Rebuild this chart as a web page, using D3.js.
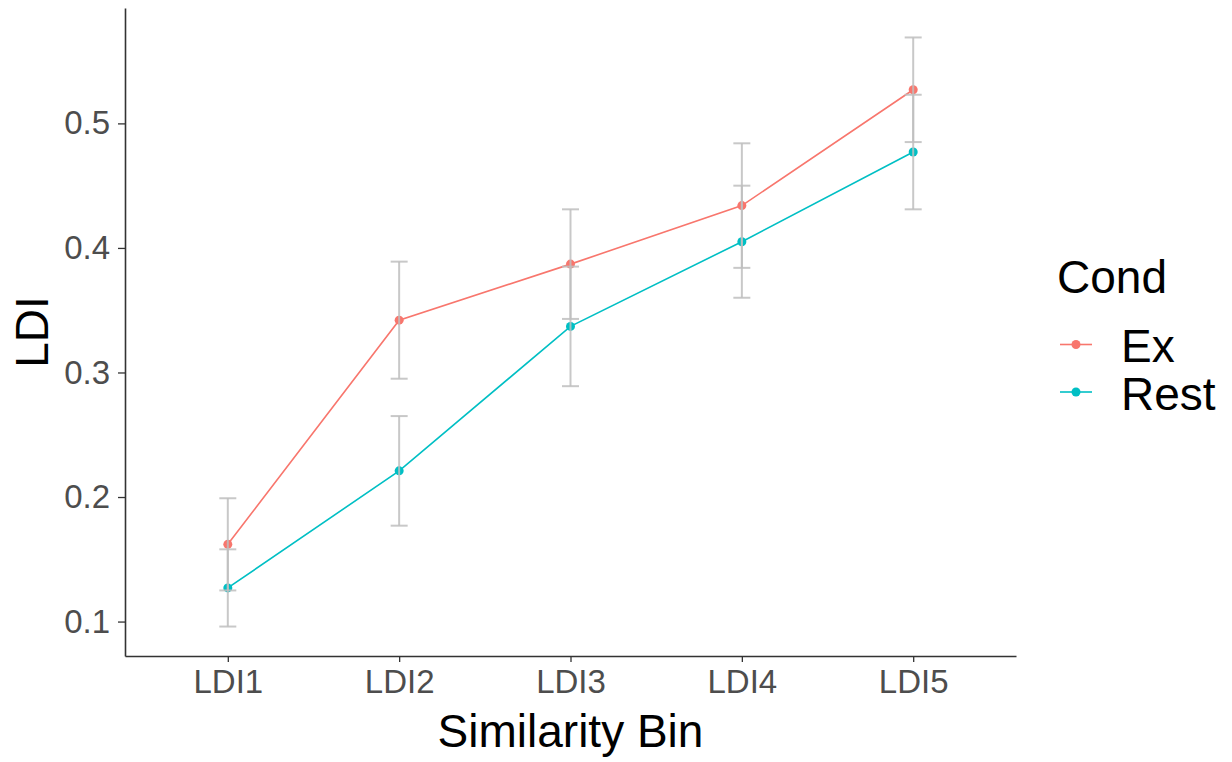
<!DOCTYPE html>
<html>
<head>
<meta charset="utf-8">
<script src="https://cdn.jsdelivr.net/npm/d3@7"></script>
<style>
  body { margin: 0; background: #fff; }
  text { font-family: "Liberation Sans", Arial, sans-serif; }
</style>
</head>
<body>
<div id="chart"></div>
<script>
// data
const bins = ["LDI1", "LDI2", "LDI3", "LDI4", "LDI5"];
const conds = ["Ex", "Rest"];
const exMean = [0.162, 0.342, 0.387, 0.434, 0.527];
const exErr = [0.037, 0.047, 0.044, 0.050, 0.042];
const restMean = [0.127, 0.221, 0.337, 0.405, 0.477];
const restErr = [0.031, 0.044, 0.048, 0.045, 0.046];
const yTicks = [0.1, 0.2, 0.3, 0.4, 0.5];

const width = 1232;
const height = 762;
const panel = {left: 125, right: 1016, top: 8, bottom: 656};
const colors = {Ex: "#F8766D", Rest: "#00BFC4"};
const r = 4.5;

const series = [
    {cond: "Ex", mean: exMean, err: exErr},
    {cond: "Rest", mean: restMean, err: restErr}
];

const svg = d3.select("#chart")
    .append("svg")
    .attr("width", width)
    .attr("height", height);

/*
SCALES
*/
const xScale = d3.scalePoint()
    .domain(bins)
    .range([panel.left, panel.right])
    .padding(0.6);

let lo = d3.min(series, s => d3.min(s.mean, (m, i) => m - s.err[i]));
let hi = d3.max(series, s => d3.max(s.mean, (m, i) => m + s.err[i]));
let pad = (hi - lo) * 0.05;

const yScale = d3.scaleLinear()
    .domain([lo - pad, hi + pad])
    .range([panel.bottom, panel.top]);

/*
LINES + POINTS + ERROR BARS
*/
const line = d3.line()
    .x((d, i) => xScale(bins[i]))
    .y(d => yScale(d));

series.forEach(function(s){
    svg.append("path")
        .datum(s.mean)
        .attr("d", line)
        .attr("fill", "none")
        .attr("stroke", colors[s.cond])
        .attr("stroke-width", 1.6);

    svg.selectAll(".pt-" + s.cond)
        .data(s.mean)
        .enter()
        .append("circle")
        .attr("class", "pt-" + s.cond)
        .attr("cx", (d, i) => xScale(bins[i]))
        .attr("cy", d => yScale(d))
        .attr("r", r)
        .attr("fill", colors[s.cond]);
});

const capW = 8.5;
series.forEach(function(s){
    const g = svg.append("g")
        .attr("stroke", "#BEBEBE")
        .attr("stroke-width", 2)
        .attr("stroke-opacity", 0.85);
    s.mean.forEach(function(m, i){
        const x = xScale(bins[i]);
        const yTop = yScale(m + s.err[i]);
        const yBot = yScale(m - s.err[i]);
        g.append("line").attr("x1", x).attr("x2", x).attr("y1", yTop).attr("y2", yBot);
        g.append("line").attr("x1", x - capW).attr("x2", x + capW).attr("y1", yTop).attr("y2", yTop);
        g.append("line").attr("x1", x - capW).attr("x2", x + capW).attr("y1", yBot).attr("y2", yBot);
    });
});

/*
AXES
*/
const xAxis = svg.append("g")
    .attr("transform", `translate(0, ${panel.bottom})`)
    .call(d3.axisBottom(xScale).tickSize(6).tickPadding(8).tickSizeOuter(0));

const yAxis = svg.append("g")
    .attr("transform", `translate(${panel.left}, 0)`)
    .call(d3.axisLeft(yScale).tickValues(yTicks).tickFormat(d3.format(".1f"))
        .tickSize(7).tickPadding(8).tickSizeOuter(0));

[xAxis, yAxis].forEach(function(a){
    a.select(".domain").attr("stroke", "#333").attr("stroke-width", 1.6);
    a.selectAll(".tick line").attr("stroke", "#333").attr("stroke-width", 1.3);
    a.selectAll(".tick text")
        .attr("fill", "#4D4D4D")
        .style("font-size", "33px")
        .style("font-family", "'Liberation Sans', Arial, sans-serif");
});
xAxis.selectAll(".tick text").attr("dy", "0.71em");

// axis titles
svg.append("text")
    .attr("x", (panel.left + panel.right) / 2)
    .attr("y", 747)
    .attr("text-anchor", "middle")
    .attr("fill", "#000")
    .style("font-size", "46px")
    .text("Similarity Bin");

svg.append("text")
    .attr("transform", `translate(48, ${(panel.top + panel.bottom) / 2}) rotate(-90)`)
    .attr("text-anchor", "middle")
    .attr("fill", "#000")
    .style("font-size", "46px")
    .text("LDI");

/*
LEGEND
*/
svg.append("text")
    .attr("x", 1057)
    .attr("y", 293)
    .attr("fill", "#000")
    .style("font-size", "46px")
    .text("Cond");

conds.forEach(function(c, i){
    const ly = 344.5 + i * 47.5;
    svg.append("line")
        .attr("x1", 1060).attr("x2", 1092)
        .attr("y1", ly).attr("y2", ly)
        .attr("stroke", colors[c])
        .attr("stroke-width", 1.6);
    svg.append("circle")
        .attr("cx", 1076).attr("cy", ly)
        .attr("r", r)
        .attr("fill", colors[c]);
    svg.append("text")
        .attr("x", 1121)
        .attr("y", ly + 17.5)
        .attr("fill", "#000")
        .style("font-size", "46px")
        .text(c);
});
</script>
</body>
</html>
